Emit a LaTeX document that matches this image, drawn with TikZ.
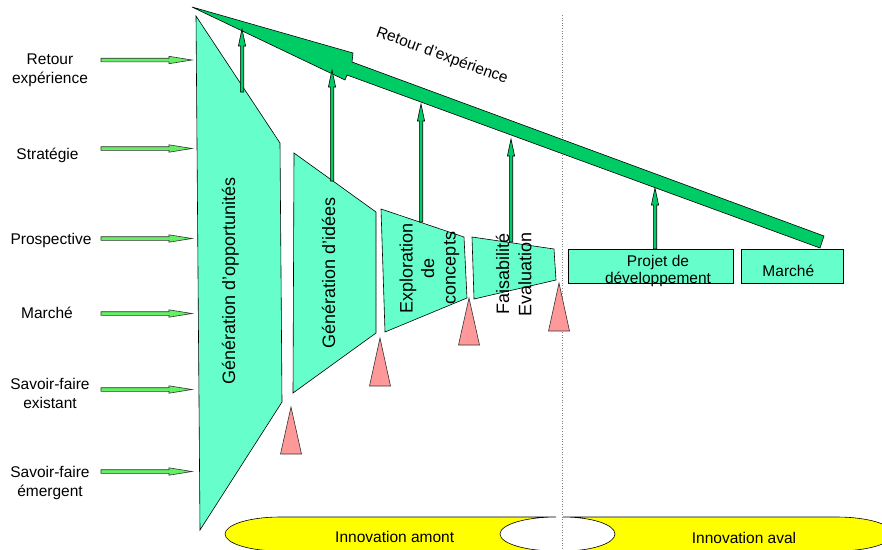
\documentclass[tikz,border=0pt]{standalone}
\usepackage{fontspec}
\setmainfont{Liberation Sans}
\definecolor{tealA}{RGB}{102,255,204}
\definecolor{dgreen}{RGB}{0,204,102}
\definecolor{lgreen}{RGB}{100,240,100}
\definecolor{pinkA}{RGB}{255,153,153}
\definecolor{yellA}{RGB}{255,255,0}
\newcommand{\upblk}[3]{%
  \draw[vfb] ({#1-1.7},#2) -- ({#1-1.7},{#3+17}) -- ({#1-3.6},{#3+17}) -- (#1,#3) -- ({#1+3.6},{#3+17}) -- ({#1+1.7},{#3+17}) -- ({#1+1.7},#2) -- cycle;}
\newcommand{\inblk}[1]{%
  \draw[inarr] (101,{#1-1.8}) -- (169,{#1-1.8}) -- (169,{#1-3.7}) -- (192,#1) -- (169,{#1+3.7}) -- (169,{#1+1.8}) -- (101,{#1+1.8}) -- cycle;}
\newcommand{\pinktri}[3]{%
  \draw[tri] (#1,#2) -- ({#1+10.5},#3) -- ({#1-10.5},#3) -- cycle;}
\begin{document}
\begin{tikzpicture}[x=1pt,y=-1pt,
  stage/.style={draw=black,line width=0.6pt,fill=tealA},
  vfb/.style={draw=black,line width=0.6pt,fill=dgreen},
  inarr/.style={draw=black!80,line width=0.6pt,fill=lgreen},
  tri/.style={draw=black!80,line width=0.6pt,fill=pinkA},
  band/.style={draw=black,line width=0.6pt,fill=yellA},
  lab/.style={inner sep=0pt,font=\fontsize{15.5}{19}\selectfont},
  vlab/.style={inner sep=0pt,rotate=90,anchor=base,font=\fontsize{18}{22}\selectfont}]
\useasboundingbox (0,0) rectangle (882,549);
\clip (0,0) rectangle (882,549);
% separator
\draw[gray,dotted,line width=0.6pt] (562.5,15) -- (562.5,549);
% input arrows
\inblk{60}
\inblk{148.5}
\inblk{238.5}
\inblk{313.5}
\inblk{389.5}
\inblk{471.5}
% stages
\draw[stage] (196,16) -- (280,143) -- (282,402) -- (200,530) -- cycle;
\draw[stage] (294,153) -- (376,212) -- (376,333) -- (293,393) -- cycle;
\draw[stage] (381,209) -- (464,237) -- (467,298) -- (385,332) -- cycle;
\draw[stage] (472,237) -- (554,249) -- (556,280) -- (474,299) -- cycle;
\draw[stage] (568,249) rectangle (733,283);
\draw[stage] (741,249) rectangle (843,283);
% decision triangles
\pinktri{291}{407}{454}
\pinktri{380}{338}{386}
\pinktri{469}{298}{345}
\pinktri{559}{283}{331}
% big feedback arrow
\draw[vfb] (192,7) -- (353,53) -- (352,62) -- (824,236) -- (820,248) -- (347,75) -- (345,80) -- cycle;
% feedback arrows
\upblk{242}{92}{29}
\upblk{332}{181}{70}
\upblk{421}{222}{104}
\upblk{511}{242}{139}
\upblk{655}{249}{188}
% bands
\draw[band] (280,517) -- (556,517) arc[start angle=90,end angle=270,x radius=56pt,y radius=17pt] -- (280,551) arc[start angle=270,end angle=90,x radius=55pt,y radius=17pt] -- cycle;
\draw[band] (563,517) -- (837,517) arc[start angle=90,end angle=-90,x radius=56pt,y radius=17pt] -- (563,551) arc[start angle=-90,end angle=90,x radius=52pt,y radius=17pt] -- cycle;
% left labels
\node[lab,anchor=base] (l1) at (50,64.3) {\begin{tabular}[t]{@{}c@{}}Retour\\expérience\end{tabular}};
\node[lab,anchor=base] (l2) at (47.5,159.3) {Stratégie};
\node[lab,anchor=base] (l3) at (51,244) {Prospective};
\node[lab,anchor=base] (l4) at (47,318) {Marché};
\node[lab,anchor=base] (l5) at (50,389) {\begin{tabular}[t]{@{}c@{}}Savoir-faire\\existant\end{tabular}};
\node[lab,anchor=base] (l6) at (50,477) {\begin{tabular}[t]{@{}c@{}}Savoir-faire\\émergent\end{tabular}};
% stage labels
\node[vlab] (s1) at (235,281) {Génération d'opportunités};
\node[vlab] (s2) at (335,272.5) {Génération d'idées};
\node[vlab,font=\fontsize{18}{21.5}\selectfont] (s3) at (412.7,268) {\begin{tabular}[t]{@{}c@{}}Exploration\\de\\concepts\end{tabular}};
\node[vlab,font=\fontsize{18}{22.3}\selectfont] (s4) at (509,274) {\begin{tabular}[t]{@{}c@{}}Faisabilité\\Evaluation\end{tabular}};
\node[lab,anchor=base] (s5) at (658,266.7) {\begin{tabular}[t]{@{}c@{}}Projet de\\[-1.8pt]développement\end{tabular}};
\node[lab,anchor=base] (s6) at (788.3,276) {Marché};
\node[lab,rotate=-20] (fb) at (442,56) {Retour d’expérience};
\node[lab,anchor=base] (b1) at (394.7,542.7) {Innovation amont};
\node[lab,anchor=base] (b2) at (744,543.3) {Innovation aval};
\end{tikzpicture}
\end{document}
